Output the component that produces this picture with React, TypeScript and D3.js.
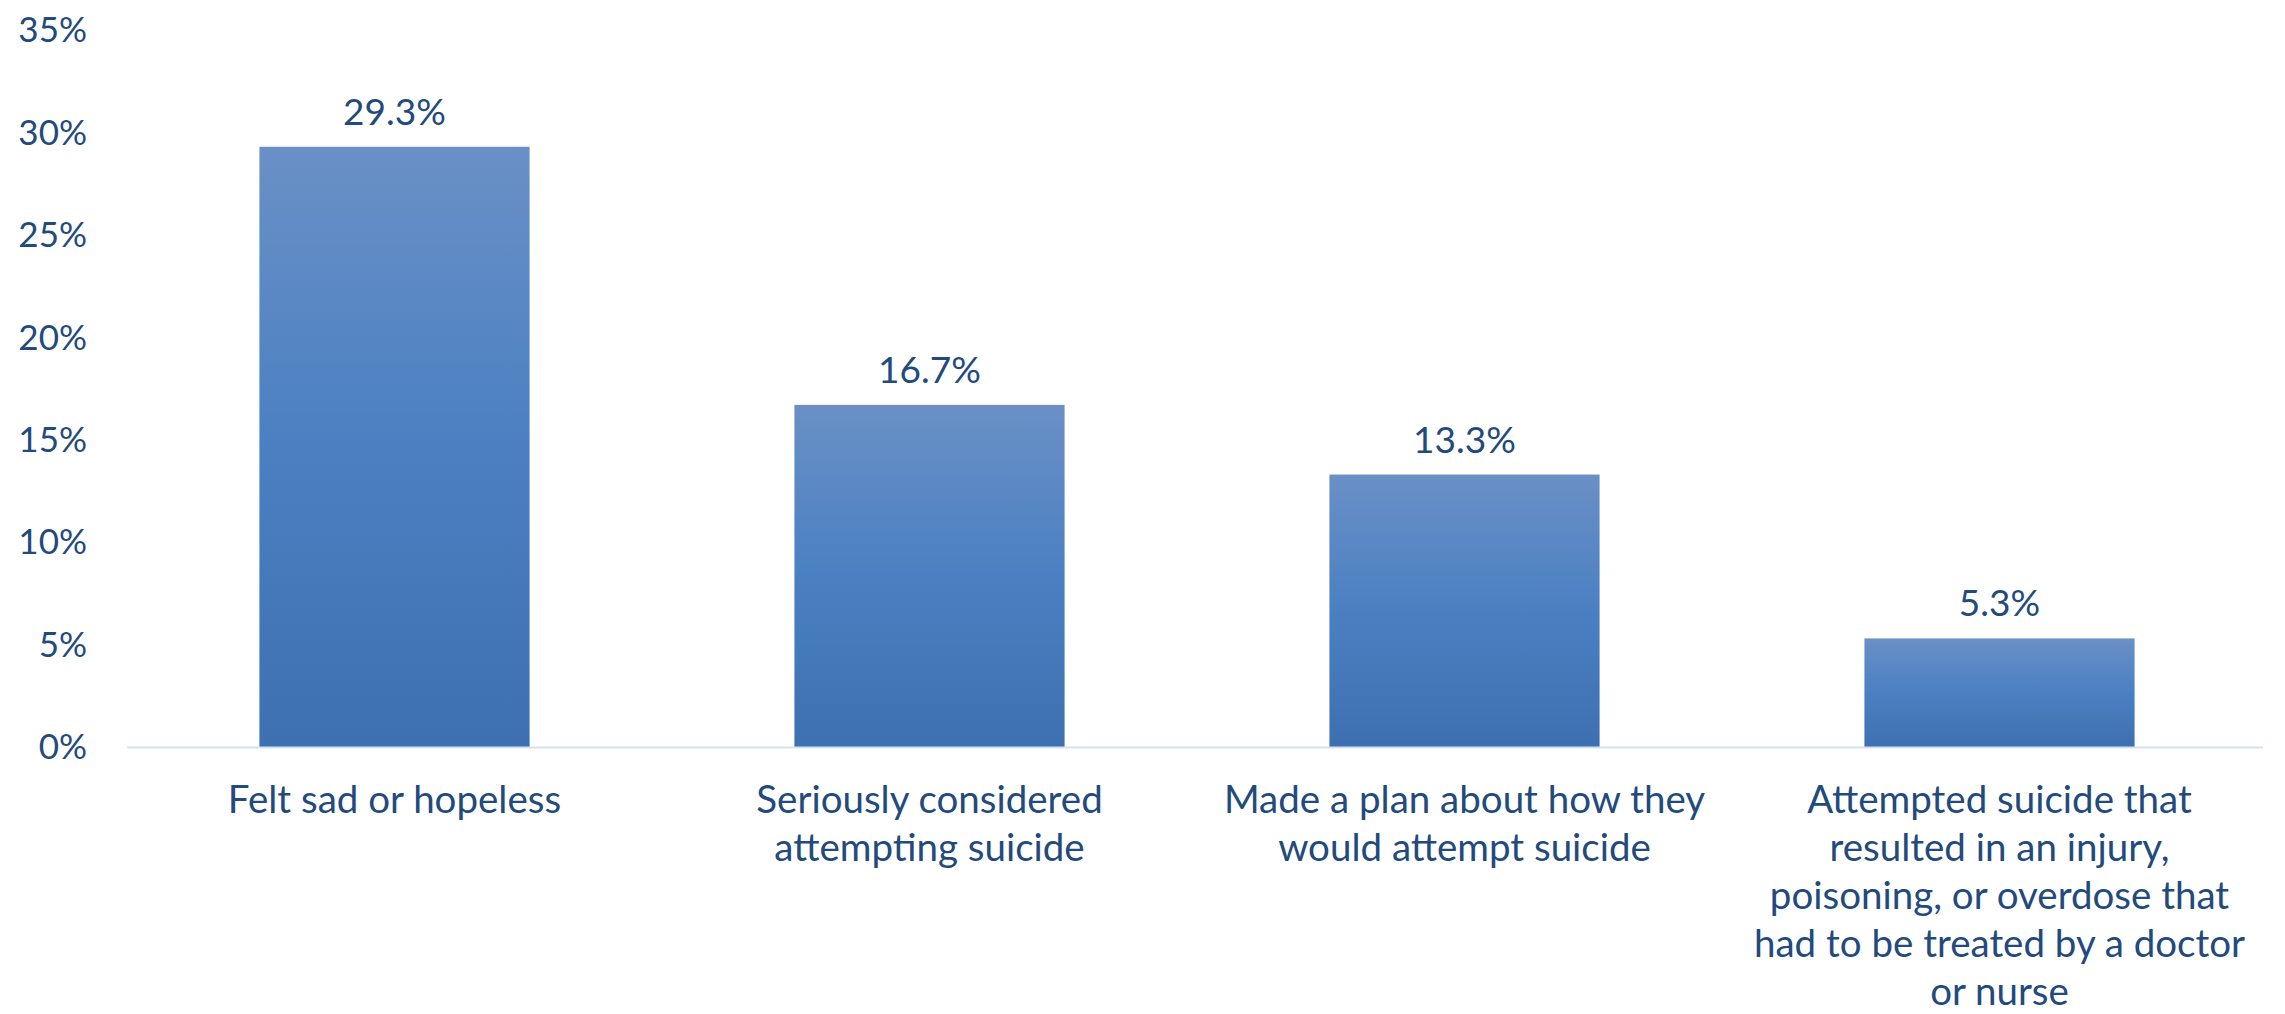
import React from "react";
import * as d3 from "d3";

const categories: string[][] = [
  ["Felt sad or hopeless"],
  ["Seriously considered", "attempting suicide"],
  ["Made a plan about how they", "would attempt suicide"],
  [
    "Attempted suicide that",
    "resulted in an injury,",
    "poisoning, or overdose that",
    "had to be treated by a doctor",
    "or nurse",
  ],
];
const values: number[] = [29.3, 16.7, 13.3, 5.3];
const yTicks: number[] = [0, 5, 10, 15, 20, 25, 30, 35];

const W = 2285;
const H = 1014;
const FONT = "Lato, 'Open Sans', sans-serif";
const TEXT = "#234A7C";

export default function App() {
  const left = 127;
  const right = 2267;
  const y0 = 747;
  const yTop = 30;
  const x = d3
    .scaleBand<number>()
    .domain(d3.range(values.length))
    .range([left, right])
    .paddingInner(0.495)
    .paddingOuter(0.2475);
  const y = d3.scaleLinear().domain([0, 35]).range([y0, yTop]);
  const fmt = (v: number) => `${v}%`;

  return (
    <svg
      width={W}
      height={H}
      style={{ position: "absolute", left: 0, top: 0, background: "#fff" }}
      fontFamily={FONT}
    >
      <defs>
        <linearGradient id="barGrad" x1="0" y1="0" x2="0" y2="1">
          <stop offset="0" stopColor="#6A90C6" />
          <stop offset="0.5" stopColor="#4A80C2" />
          <stop offset="1" stopColor="#3D70B0" />
        </linearGradient>
      </defs>
      {yTicks.map((t) => (
        <text
          key={t}
          x={87}
          y={y(t)}
          dy="0.35em"
          textAnchor="end"
          fontSize={35}
          fill={TEXT}
        >
          {fmt(t)}
        </text>
      ))}
      {values.map((v, i) => {
        const bx = x(i)!;
        const bw = x.bandwidth();
        return (
          <g key={i}>
            <rect
              x={bx}
              y={y(v)}
              width={bw}
              height={y0 - y(v)}
              fill="url(#barGrad)"
            />
            <text
              x={bx + bw / 2}
              y={y(v) - 22}
              textAnchor="middle"
              fontSize={37}
              fill={TEXT}
            >
              {`${v.toFixed(1)}%`}
            </text>
          </g>
        );
      })}
      <line
        x1={left}
        x2={right - 4}
        y1={y0 + 0.5}
        y2={y0 + 0.5}
        stroke="#D6E2F2"
        strokeWidth={2}
      />
      {categories.map((lines, i) => {
        const cx = x(i)! + x.bandwidth() / 2;
        return (
          <text
            key={i}
            x={cx}
            y={813}
            textAnchor="middle"
            fontSize={38.5}
            fill={TEXT}
          >
            {lines.map((l, j) => (
              <tspan key={j} x={cx} dy={j === 0 ? 0 : 48}>
                {l}
              </tspan>
            ))}
          </text>
        );
      })}
    </svg>
  );
}
